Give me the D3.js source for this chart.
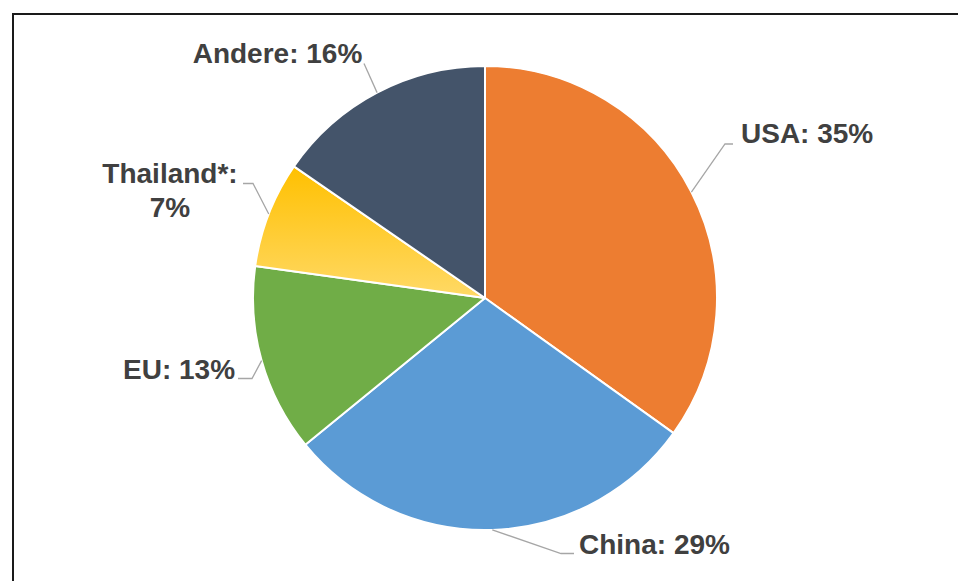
<!DOCTYPE html>
<html><head><meta charset="utf-8">
<script src="https://cdn.jsdelivr.net/npm/d3@7/dist/d3.min.js"></script>
<style>html,body{margin:0;padding:0;background:#fff;}svg{display:block;}</style>
</head><body>
<svg id="chart" width="958" height="581"></svg>
<script>
const categories = ["USA", "China", "EU", "Thailand*", "Andere"];
const values = [34.9, 29.2, 13.1, 7.4, 15.4];
const percentLabels = ["35%", "29%", "13%", "7%", "16%"];
const colors = ["#ED7D31", "#5B9BD5", "#70AD47", "url(#thaiGrad)", "#44546A"];
// label layout
const labelLayout = [
  {x:741, y:143, anchor:"start", wrap:false, leader:[[733,144],[725,144]]},
  {x:579, y:554, anchor:"start", wrap:false, leader:[[574,553.5],[561,553.5]]},
  {x:123, y:379, anchor:"start", wrap:false, leader:[[238,378.5],[252,378.5]]},
  {x:170, y:183, anchor:"middle", wrap:true, leader:[[243,183.5],[253,183.5]]},
  {x:277.5, y:62.5, anchor:"middle", wrap:false, leader:[[364,63.5]]}
];

const svg = d3.select("#chart");
const defs = svg.append("defs");
const g1 = defs.append("linearGradient").attr("id","thaiGrad")
  .attr("x1",0).attr("y1",0).attr("x2",0).attr("y2",1);
g1.append("stop").attr("offset","0%").attr("stop-color","#FFC000");
g1.append("stop").attr("offset","100%").attr("stop-color","#FFD966");

svg.append("rect").attr("x",13).attr("y",14).attr("width",1000).attr("height",1000)
  .attr("fill","none").attr("stroke","#1a1a1a").attr("stroke-width",2);

const cx = 485, cy = 298, R = 232;
const pie = d3.pie().sort(null).value(d => d)(values);
const arc = d3.arc().innerRadius(0).outerRadius(R);
const g = svg.append("g").attr("transform",`translate(${cx},${cy})`);
g.selectAll("path").data(pie).join("path")
  .attr("d", arc)
  .attr("fill", (d,i) => colors[i])
  .attr("stroke","#fff").attr("stroke-width",2).attr("stroke-linejoin","round");

pie.forEach((d,i) => {
  const a = (d.startAngle + d.endAngle)/2;
  const px = cx + R*Math.sin(a), py = cy - R*Math.cos(a);
  const pts = labelLayout[i].leader.concat([[px,py]]);
  svg.append("path").attr("d", d3.line()(pts)).attr("fill","none")
    .attr("stroke","#A6A6A6").attr("stroke-width",1.3);
});

labelLayout.forEach((L,i) => {
  const lines = L.wrap ? [categories[i] + ":", percentLabels[i]] : [categories[i] + ": " + percentLabels[i]];
  const t = svg.append("text").attr("x",L.x).attr("y",L.y)
    .attr("text-anchor",L.anchor)
    .attr("font-family","'Liberation Sans', Arial, sans-serif")
    .attr("font-weight","bold").attr("font-size",28).attr("fill","#404040");
  lines.forEach((ln,j) => {
    t.append("tspan").attr("x",L.x).attr("dy", j===0?0:33.5).text(ln);
  });
});
</script>
</body></html>
